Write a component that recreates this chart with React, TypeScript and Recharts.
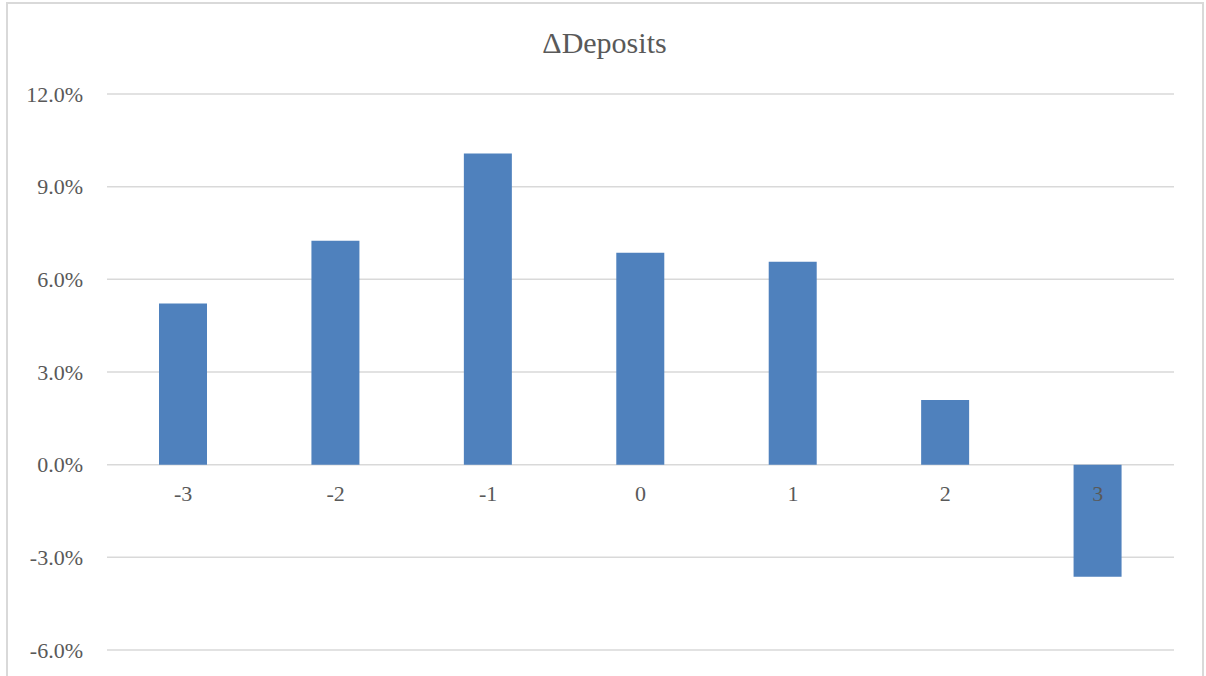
import { Bar, BarChart, CartesianGrid, ReferenceDot, XAxis, YAxis } from "recharts";

const CATEGORIES = ["-3", "-2", "-1", "0", "1", "2", "3"];
const DEPOSIT_CHANGE = [5.22, 7.25, 10.07, 6.86, 6.57, 2.09, -3.63];
const Y_TICKS = [-6, -3, 0, 3, 6, 9, 12];

const data = CATEGORIES.map((cat, i) => ({ cat, value: DEPOSIT_CHANGE[i] }));

const FONT = '"Liberation Serif", "Times New Roman", serif';
const TEXT = "#595959";
const GRID = "#d9d9d9";

export default function App() {
  return (
    <div style={{ position: "absolute", left: 0, top: 0, width: 1206, height: 676, overflow: "hidden", background: "#fff" }}>
      <div
        style={{
          position: "absolute",
          left: 6,
          top: 2,
          width: 1194,
          height: 700,
          border: `2px solid ${GRID}`,
        }}
      />
      <div
        style={{
          position: "absolute",
          left: 0,
          top: 28,
          width: 1209,
          textAlign: "center",
          fontFamily: FONT,
          fontSize: 30,
          lineHeight: "30px",
          color: TEXT,
        }}
      >
        ΔDeposits
      </div>
      <div style={{ position: "absolute", left: 0, top: 0 }}>
        <BarChart
          width={1206}
          height={676}
          data={data}
          margin={{ top: 94, right: 32, bottom: 26, left: 7 }}
        >
          <CartesianGrid vertical={false} stroke={GRID} strokeWidth={1.5} />
          <XAxis dataKey="cat" hide />
          <YAxis
            width={100}
            domain={[-6, 12]}
            ticks={Y_TICKS}
            interval={0}
            tickFormatter={(v: number) => `${v.toFixed(1)}%`}
            tick={{ fill: TEXT, fontSize: 22, fontFamily: FONT }}
            tickLine={false}
            axisLine={false}
            tickMargin={18}
          />
          <Bar dataKey="value" fill="#4f81bd" barSize={48} isAnimationActive={false} />
          {CATEGORIES.map((cat) => (
            <ReferenceDot
              key={cat}
              x={cat}
              y={0}
              r={0}
              fill="none"
              stroke="none"
              label={{
                value: cat,
                position: "bottom",
                offset: 21,
                fill: TEXT,
                fontSize: 22,
                fontFamily: FONT,
              }}
            />
          ))}
        </BarChart>
      </div>
    </div>
  );
}
